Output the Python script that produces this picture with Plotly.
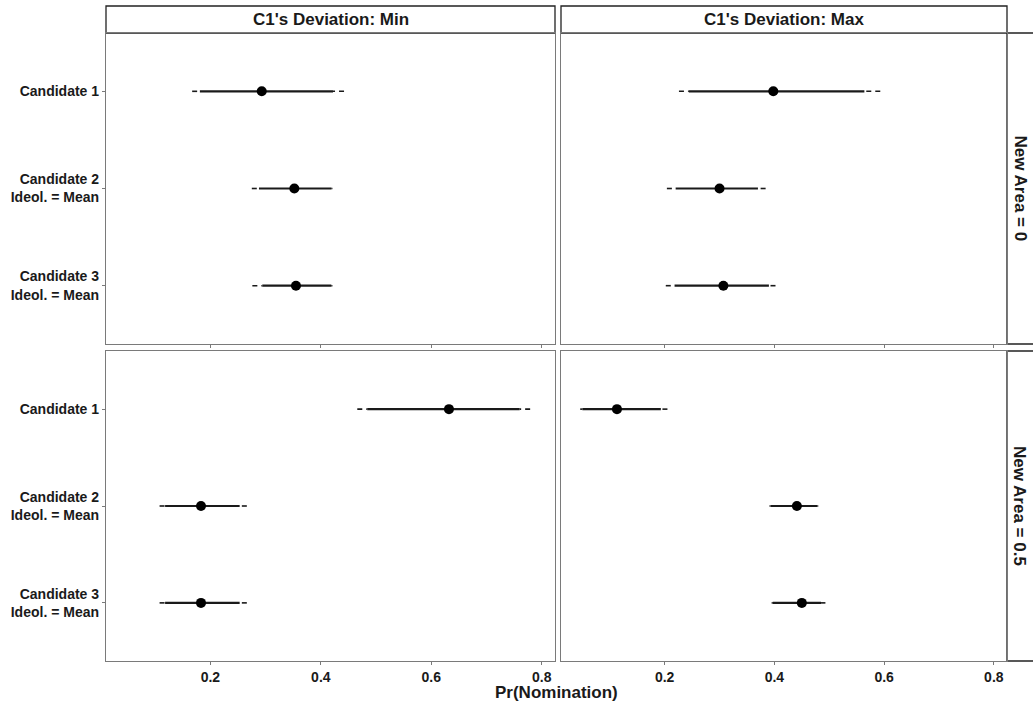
import plotly.graph_objects as go

# ---------------- data ----------------
candidates = ["Candidate 1", "Candidate 2<br>Ideol. = Mean", "Candidate 3<br>Ideol. = Mean"]
col_labels = ["C1's Deviation: Min", "C1's Deviation: Max"]
row_labels = ["New Area = 0", "New Area = 0.5"]
x_ticks = [0.2, 0.4, 0.6, 0.8]
x_title = "Pr(Nomination)"

# New Area = 0, Min
a0_min_est = [0.293, 0.352, 0.355]
a0_min_in_lo = [0.181, 0.288, 0.294]
a0_min_in_hi = [0.422, 0.419, 0.419]
a0_min_out_lo = [0.167, 0.275, 0.276]
a0_min_out_hi = [0.442, 0.421, 0.421]

# New Area = 0, Max
a0_max_est = [0.398, 0.300, 0.307]
a0_max_in_lo = [0.244, 0.220, 0.218]
a0_max_in_hi = [0.564, 0.370, 0.390]
a0_max_out_lo = [0.226, 0.204, 0.202]
a0_max_out_hi = [0.593, 0.384, 0.402]

# New Area = 0.5, Min
a5_min_est = [0.632, 0.183, 0.183]
a5_min_in_lo = [0.484, 0.118, 0.118]
a5_min_in_hi = [0.760, 0.253, 0.253]
a5_min_out_lo = [0.466, 0.108, 0.108]
a5_min_out_hi = [0.779, 0.266, 0.266]

# New Area = 0.5, Max
a5_max_est = [0.113, 0.441, 0.450]
a5_max_in_lo = [0.050, 0.393, 0.397]
a5_max_in_hi = [0.193, 0.478, 0.485]
a5_max_out_lo = [0.046, 0.391, 0.395]
a5_max_out_hi = [0.205, 0.480, 0.493]

panels = [
    # (row, col, est, in_lo, in_hi, out_lo, out_hi)
    (0, 0, a0_min_est, a0_min_in_lo, a0_min_in_hi, a0_min_out_lo, a0_min_out_hi),
    (0, 1, a0_max_est, a0_max_in_lo, a0_max_in_hi, a0_max_out_lo, a0_max_out_hi),
    (1, 0, a5_min_est, a5_min_in_lo, a5_min_in_hi, a5_min_out_lo, a5_min_out_hi),
    (1, 1, a5_max_est, a5_max_in_lo, a5_max_in_hi, a5_max_out_lo, a5_max_out_hi),
]

# ---------------- layout geometry (pixels) ----------------
W, H = 1033, 706
col_px = [(106, 555), (561, 1007)]
row_px = [(33, 344), (351, 661)]
strip_top = 6

def px_x(p):
    return p / W

def px_y(p):
    return 1 - p / H

FONT = "Liberation Sans, Arial, Helvetica, sans-serif"
INK = "#1a1a1a"
AXC = "#7a7a7a"

fig = go.Figure()

for (r, c, est, ilo, ihi, olo, ohi) in panels:
    idx = r * 2 + c + 1
    xa = "x" if idx == 1 else f"x{idx}"
    ya = "y" if idx == 1 else f"y{idx}"
    # outer interval (dashed), drawn from outer ends inward
    ox, oy = [], []
    for k, cand in enumerate(candidates):
        ox += [olo[k], ilo[k], None, ohi[k], ihi[k], None]
        oy += [cand, cand, None, cand, cand, None]
    fig.add_trace(go.Scatter(x=ox, y=oy, mode="lines", xaxis=xa, yaxis=ya,
                             line=dict(color=INK, width=1.6, dash="5px,4px"),
                             showlegend=False, hoverinfo="skip"))
    # inner interval (solid)
    ix, iy = [], []
    for k, cand in enumerate(candidates):
        ix += [ilo[k], ihi[k], None]
        iy += [cand, cand, None]
    fig.add_trace(go.Scatter(x=ix, y=iy, mode="lines", xaxis=xa, yaxis=ya,
                             line=dict(color=INK, width=2.2),
                             showlegend=False, hoverinfo="skip"))
    # point estimate
    fig.add_trace(go.Scatter(x=est, y=candidates, mode="markers", xaxis=xa, yaxis=ya,
                             marker=dict(color="black", size=10),
                             showlegend=False))

layout = dict(
    width=W, height=H,
    margin=dict(l=0, r=0, t=0, b=0),
    paper_bgcolor="white", plot_bgcolor="white",
    font=dict(family=FONT, color=INK),
    shapes=[], annotations=[],
)

for r in range(2):
    for c in range(2):
        idx = r * 2 + c + 1
        xk = "xaxis" if idx == 1 else f"xaxis{idx}"
        yk = "yaxis" if idx == 1 else f"yaxis{idx}"
        ya_ref = "y" if idx == 1 else f"y{idx}"
        xa_ref = "x" if idx == 1 else f"x{idx}"
        layout[xk] = dict(
            domain=[px_x(col_px[c][0]), px_x(col_px[c][1])],
            anchor=ya_ref,
            range=[0.011, 0.824],
            tickvals=x_ticks,
            ticktext=[f"{v:.1f}" for v in x_ticks],
            showticklabels=(r == 1),
            ticks="outside", ticklen=3, tickcolor=AXC, tickwidth=1,
            tickfont=dict(family=FONT, size=14, color=INK, weight="bold"),
            showgrid=False, zeroline=False,
            showline=True, linecolor=AXC, linewidth=1.3, mirror=True,
        )
        layout[yk] = dict(
            domain=[px_y(row_px[r][1]), px_y(row_px[r][0])],
            anchor=xa_ref,
            type="category",
            categoryorder="array", categoryarray=candidates,
            range=[2.6, -0.6],
            showticklabels=(c == 0),
            ticks="outside" if c == 0 else "", ticklen=3, tickcolor=AXC, tickwidth=1,
            tickfont=dict(family=FONT, size=14, color=INK, weight="bold"),
            showgrid=False, zeroline=False,
            showline=True, linecolor=AXC, linewidth=1.3, mirror=True,
        )

# top strips
for c in range(2):
    x0, x1 = col_px[c]
    layout["shapes"].append(dict(type="rect", xref="paper", yref="paper",
                                 x0=px_x(x0), x1=px_x(x1), y0=px_y(row_px[0][0]), y1=px_y(strip_top),
                                 line=dict(color="#222", width=1.3), fillcolor="white", layer="below"))
    layout["annotations"].append(dict(xref="paper", yref="paper",
                                      x=px_x((x0 + x1) / 2), y=px_y((strip_top + row_px[0][0]) / 2),
                                      text=col_labels[c], showarrow=False,
                                      xanchor="center", yanchor="middle",
                                      font=dict(family=FONT, size=17, color=INK, weight="bold")))

# right strips
for r in range(2):
    y0, y1 = row_px[r]
    layout["shapes"].append(dict(type="rect", xref="paper", yref="paper",
                                 x0=px_x(col_px[1][1]), x1=px_x(W + 10), y0=px_y(y1), y1=px_y(y0),
                                 line=dict(color="#222", width=1.3), fillcolor="white", layer="below"))
    layout["annotations"].append(dict(xref="paper", yref="paper",
                                      x=px_x(1020), y=px_y((y0 + y1) / 2),
                                      text=row_labels[r], showarrow=False, textangle=90,
                                      xanchor="center", yanchor="middle",
                                      font=dict(family=FONT, size=17, color=INK, weight="bold")))

# x axis title
layout["annotations"].append(dict(xref="paper", yref="paper",
                                  x=px_x((col_px[0][0] + col_px[1][1]) / 2), y=px_y(692),
                                  text=x_title, showarrow=False,
                                  xanchor="center", yanchor="middle",
                                  font=dict(family=FONT, size=17, color=INK, weight="bold")))

fig.update_layout(**layout)
fig.write_html("out.html",
               config={"displayModeBar": False},
               post_script="document.body.style.margin='0';document.body.style.overflow='hidden';")
